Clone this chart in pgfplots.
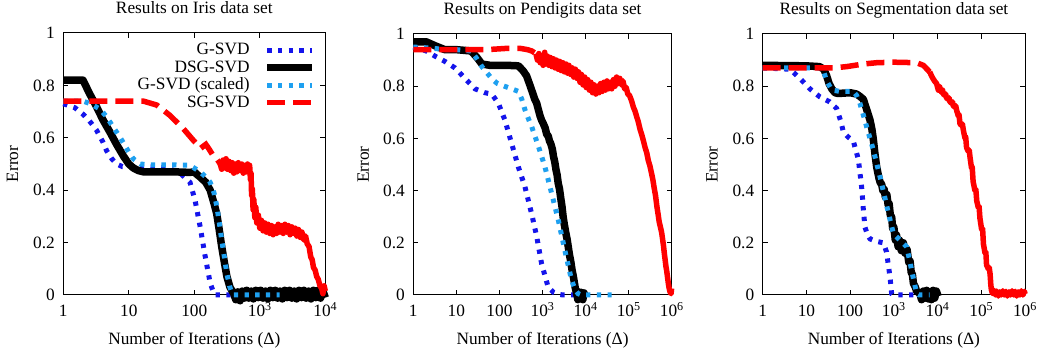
\documentclass[border=0pt]{standalone}
\usepackage{fontspec}
\setmainfont{Liberation Serif}
\usepackage{pgfplots}
\pgfplotsset{compat=1.18}
\definecolor{gblue}{RGB}{20,20,235}
\definecolor{lblue}{RGB}{30,160,240}
\definecolor{gred}{RGB}{255,0,0}
\newcommand\cf{\fontsize{17.3bp}{20bp}\selectfont}
\pgfplotsset{
  legend image code/.code={\draw[#1] (0bp,0bp) -- (45bp,0bp);},
  every axis title shift=0pt,
  gsvd/.style={color=gblue, line width=5bp, dash pattern=on 4.3bp off 6.4bp},
  dsg/.style={color=black, line width=7.5bp, line join=round},
  gsc/.style={color=lblue, line width=5bp, dash pattern=on 4.3bp off 6.4bp},
  sg/.style={color=gred, line width=5.5bp, dash pattern=on 18bp off 8bp},
  sgn/.style={color=gred, line width=5.5bp, line join=round},
  myaxisstyle/.style={
    scale only axis, xmin=1, ymin=0, ymax=1,
    ytick={0,0.2,0.4,0.6,0.8,1},
    yticklabels={0,0.2,0.4,0.6,0.8,1},
    minor tick style={draw=none},
    clip=false,
    axis line style={line width=1bp, black},
    major tick length=5bp,
    tick style={black, line width=1bp},
    every tick label/.append style={font=\cf},
    xticklabel style={anchor=base, yshift=-21.5bp},
    yticklabel style={xshift=-5bp},
    title style={font=\cf, at={(axis description cs:0.5,1.0737)}, anchor=base},
    xlabel style={font=\cf, at={(axis description cs:0.5,-0.1908)}, anchor=base},
    ylabel style={font=\cf, at={(axis description cs:-0.172,0.5)}, anchor=base},
    xlabel={Number of Iterations (Δ)},
    ylabel={Error},
  },
}
\begin{document}
\begin{tikzpicture}
\path[use as bounding box] (0,0) rectangle (1037bp,356bp);
% ---------------- Iris ----------------
\begin{semilogxaxis}[myaxisstyle, at={(63.3bp,61bp)}, anchor=south west,
  width=262bp, height=262bp, xmax=10000,
  xtick={1,10,100,1000,10000},
  xticklabels={1,10,100,10\textsuperscript{3},10\textsuperscript{4}},
  title={Results on Iris data set},
  legend cell align=right, legend plot pos=right,
  legend style={at={(axis description cs:1,1)}, anchor=north east,
    xshift=-9bp, yshift=-9.4bp, draw=none, fill=none, inner sep=0pt,
    font=\cf, row sep=2.5bp, column sep=14bp,
    nodes={inner sep=0pt, text height=12bp, text depth=3bp}},
]
\addplot[gsvd] coordinates {(1,0.73)(1.5,0.715)(2,0.69)(2.5,0.665)(3.2,0.63)(4,0.585)(4.6,0.55)(5.5,0.52)(6.5,0.50)(8,0.49)(10,0.49)(20,0.49)(40,0.485)(61,0.465)(86,0.43)(103,0.36)(123,0.26)(146,0.15)(175,0.045)(200,0.005)(208,0)(400,0)};
\addlegendentry{G-SVD}
\addplot[dsg] coordinates {(1,0.82)(2,0.82)(2.5,0.77)(3.2,0.72)(4,0.67)(5.2,0.62)(6.5,0.575)(8.3,0.53)(10,0.5)(11.7,0.485)(14,0.475)(16.7,0.47)(30,0.47)(50,0.47)(86,0.468)(100,0.47)(110,0.46)(123,0.45)(150,0.43)(175,0.40)(200,0.35)(220,0.31)(240,0.25)(262,0.185)(290,0.12)(315,0.07)(350,0.03)(400,0.005)
(430,-0.018)(460,0.012)(500,-0.022)(540,0.015)(580,-0.012)(630,0.018)(680,-0.012)(740,0.015)(800,-0.015)(870,0.018)(950,-0.01)(1030,0.018)(1120,-0.012)(1220,0.015)(1330,-0.015)(1450,0.018)(1580,-0.01)(1720,0.018)(1870,-0.012)(2030,0.015)(2210,-0.015)(2400,0.018)(2610,-0.01)(2840,0.018)(3090,-0.012)(3360,0.015)(3650,-0.015)(3970,0.018)(4320,-0.01)(4700,0.018)(5110,-0.012)(5560,0.015)(6050,-0.015)(6580,0.018)(7150,-0.01)(7780,0.018)(8460,-0.012)(9200,0.015)(10000,-0.01)};
\addlegendentry{DSG-SVD}
\addplot[gsc] coordinates {(1,0.74)(2,0.74)(2.6,0.73)(3.6,0.71)(4.6,0.68)(5.8,0.64)(7,0.61)(8.3,0.58)(10,0.545)(11.7,0.52)(15,0.50)(20,0.497)(40,0.497)(86,0.495)(123,0.47)(150,0.45)(175,0.43)(200,0.39)(220,0.34)(240,0.28)(262,0.21)(290,0.14)(315,0.08)(345,0.035)(375,0.005)(400,0)(2000,0)};
\addlegendentry{G-SVD (scaled)}
\addplot[sg] coordinates {(1,0.74)(16.7,0.74)(26.7,0.725)(42.7,0.685)(68,0.635)(97,0.59)(125,0.56)(150,0.575)(170,0.555)(196,0.53)(220,0.52)(249,0.50)};
\addlegendentry{SG-SVD}
\addplot[sgn, forget plot] coordinates {(249,0.50)(262,0.48)(275,0.515)(290,0.485)(305,0.52)(320,0.48)(340,0.51)(360,0.475)(380,0.505)(400,0.465)(420,0.50)(445,0.47)(470,0.505)(500,0.475)(530,0.50)(560,0.465)(590,0.495)(620,0.47)(650,0.50)(680,0.475)(700,0.495)(720,0.44)(735,0.465)(750,0.38)(770,0.405)(790,0.325)(810,0.365)(840,0.295)(870,0.335)(900,0.275)(950,0.305)(1000,0.255)(1060,0.285)(1120,0.245)(1190,0.275)(1260,0.24)(1340,0.27)(1420,0.235)(1510,0.265)(1600,0.23)(1700,0.26)(1800,0.235)(1910,0.27)(2030,0.24)(2150,0.265)(2280,0.235)(2420,0.27)(2570,0.24)(2730,0.265)(2900,0.23)(3080,0.26)(3270,0.235)(3470,0.255)(3680,0.225)(3900,0.25)(4150,0.22)(4400,0.24)(4700,0.21)(5000,0.225)(5300,0.195)(5650,0.185)(6000,0.145)(6300,0.135)(6600,0.105)(7000,0.095)(7400,0.07)(7800,0.06)(8300,0.035)(8800,0.025)(9200,0.005)(9600,0.035)(10000,0.015)};
\end{semilogxaxis}
% ---------------- Pendigits ----------------
\begin{semilogxaxis}[myaxisstyle, at={(413.3bp,61bp)}, anchor=south west,
  width=258.5bp, height=261bp, xmax=1000000,
  xtick={1,10,100,1000,10000,100000,1000000},
  xticklabels={1,10,100,10\textsuperscript{3},10\textsuperscript{4},10\textsuperscript{5},10\textsuperscript{6}},
  title={Results on Pendigits data set},
]
\addplot[gsvd] coordinates {(1,0.95)(2,0.935)(3.2,0.915)(5.4,0.895)(9.3,0.87)(15.8,0.83)(27,0.79)(46,0.775)(66,0.77)(94,0.735)(134,0.67)(192,0.58)(275,0.49)(390,0.415)(560,0.31)(730,0.225)(950,0.12)(1350,0.03)(1800,0.01)(2300,0.003)(3000,0)(6000,0)};
\addplot[dsg] coordinates {(1,0.97)(2,0.97)(3.2,0.955)(5.4,0.94)(10,0.94)(22,0.935)(30,0.91)(39,0.885)(60,0.88)(150,0.88)(275,0.878)(350,0.86)(425,0.84)(520,0.80)(600,0.77)(660,0.75)(730,0.735)(800,0.71)(880,0.685)(950,0.67)(1050,0.655)(1150,0.64)(1250,0.615)(1350,0.61)(1450,0.59)(1550,0.58)(1680,0.56)(1800,0.53)(1920,0.51)(2050,0.48)(2180,0.46)(2300,0.43)(2480,0.405)(2650,0.37)(2820,0.34)(3000,0.30)(3200,0.27)(3450,0.24)(3700,0.215)(3950,0.185)(4200,0.155)(4500,0.13)(4850,0.095)(5200,0.07)(5700,0.03)(6200,0.005)(6600,-0.018)(7000,0.012)(7500,-0.015)(8000,0.01)(8600,-0.018)(9200,0.008)(9700,-0.005)};
\addplot[gsc] coordinates {(1,0.95)(3,0.945)(5.4,0.94)(10,0.94)(22,0.935)(30,0.905)(39,0.875)(55,0.845)(70,0.825)(90,0.81)(130,0.80)(192,0.79)(275,0.78)(330,0.75)(390,0.71)(470,0.675)(560,0.645)(800,0.57)(1140,0.49)(1620,0.39)(2300,0.29)(3300,0.17)(4700,0.058)(5700,0.02)(6700,0.005)(8000,0)(40000,0)};
\addplot[sg] coordinates {(1,0.94)(50,0.94)(150,0.945)(300,0.945)(450,0.94)(560,0.935)(700,0.925)};
\addplot[sgn] coordinates {(700,0.925)(760,0.9)(820,0.925)(880,0.89)(950,0.915)(1030,0.88)(1120,0.93)(1200,0.885)(1300,0.915)(1400,0.88)(1520,0.91)(1650,0.875)(1790,0.905)(1950,0.87)(2100,0.9)(2300,0.865)(2500,0.895)(2700,0.86)(2950,0.89)(3200,0.855)(3500,0.885)(3800,0.85)(4100,0.88)(4500,0.845)(4900,0.87)(5300,0.835)(5800,0.865)(6300,0.83)(6800,0.855)(7400,0.815)(8000,0.845)(8700,0.805)(9500,0.835)(10300,0.795)(11200,0.825)(12200,0.785)(13300,0.815)(14500,0.775)(15800,0.805)(17200,0.77)(18700,0.80)(20400,0.775)(22200,0.81)(24200,0.78)(26400,0.815)(28700,0.785)(31300,0.82)(34100,0.79)(37100,0.815)(40400,0.79)(44000,0.825)(48000,0.80)(52300,0.835)(57000,0.81)(62000,0.83)(67600,0.805)(73600,0.82)(80200,0.79)(87400,0.795)(95200,0.77)(104000,0.765)(116000,0.745)(128000,0.72)(140000,0.705)(155000,0.68)(166000,0.665)(183000,0.635)(200000,0.615)(220000,0.59)(240000,0.565)(262000,0.545)(285000,0.515)(310000,0.495)(340000,0.465)(365000,0.44)(390000,0.41)(420000,0.38)(450000,0.34)(480000,0.31)(510000,0.28)(545000,0.26)(580000,0.24)(610000,0.215)(640000,0.19)(670000,0.16)(700000,0.135)(730000,0.11)(765000,0.09)(800000,0.065)(830000,0.045)(870000,0.025)(910000,0.012)(960000,0.005)(990000,0.025)};
\end{semilogxaxis}
% ---------------- Segmentation ----------------
\begin{semilogxaxis}[myaxisstyle, at={(762.7bp,61bp)}, anchor=south west,
  width=262.3bp, height=261bp, xmax=1000000,
  xtick={1,10,100,1000,10000,100000,1000000},
  xticklabels={1,10,100,10\textsuperscript{3},10\textsuperscript{4},10\textsuperscript{5},10\textsuperscript{6}},
  title={Results on Segmentation data set},
]
\addplot[gsvd] coordinates {(1,0.87)(4.2,0.865)(7.1,0.83)(12,0.79)(20,0.76)(34,0.74)(49,0.715)(60,0.67)(70,0.625)(90,0.605)(118,0.59)(154,0.52)(183,0.415)(200,0.33)(218,0.26)(250,0.23)(285,0.215)(405,0.205)(575,0.20)(680,0.165)(740,0.12)(815,0.07)(890,0.005)(950,0)(3350,0)};
\addplot[dsg] coordinates {(1,0.88)(10,0.878)(20,0.875)(25,0.865)(29,0.84)(33,0.81)(38,0.79)(45,0.775)(53,0.772)(100,0.775)(140,0.77)(170,0.76)(200,0.75)(240,0.71)(285,0.67)(315,0.635)(340,0.595)(370,0.54)(405,0.49)(460,0.445)(490,0.43)(525,0.425)(560,0.40)(600,0.405)(640,0.375)(690,0.385)(740,0.345)(780,0.35)(830,0.305)(890,0.30)(940,0.255)(1000,0.26)(1080,0.21)(1150,0.23)(1250,0.185)(1350,0.21)(1480,0.17)(1650,0.2)(1800,0.16)(2000,0.175)(2200,0.125)(2350,0.13)(2500,0.085)(2650,0.08)(2800,0.045)(3100,0.03)(3300,0.015)(3950,0.005)(4300,-0.018)(4700,0.015)(5100,-0.012)(5600,0.018)(6100,-0.015)(6600,0.012)(7200,-0.018)(7900,0.018)(8600,-0.012)(9400,0.015)(10300,-0.005)};
\addplot[gsc] coordinates {(1,0.87)(20,0.87)(25,0.855)(29,0.82)(34,0.8)(38,0.785)(60,0.78)(118,0.78)(140,0.765)(167,0.735)(200,0.69)(238,0.645)(340,0.555)(480,0.455)(690,0.34)(975,0.235)(1380,0.21)(1950,0.185)(2250,0.14)(2550,0.095)(2950,0.045)(3350,0.005)(3800,0)(6600,0)};
\addplot[sg] coordinates {(1,0.87)(41,0.87)(83,0.875)(200,0.885)(405,0.89)(1000,0.892)(3300,0.89)(4700,0.88)(6600,0.855)};
\addplot[sgn] coordinates {(6600,0.855)(7500,0.835)(8500,0.82)(9500,0.81)(10400,0.785)(11000,0.80)(11500,0.79)(12500,0.775)(13000,0.785)(13500,0.77)(14700,0.765)(15300,0.77)(16000,0.755)(17500,0.75)(18300,0.755)(19200,0.74)(21000,0.735)(22000,0.74)(22800,0.725)(25000,0.72)(26000,0.725)(27500,0.705)(30000,0.685)(31000,0.69)(32600,0.655)(35700,0.65)(37000,0.655)(39000,0.63)(42500,0.60)(44000,0.605)(46000,0.565)(50500,0.55)(53000,0.555)(55500,0.525)(60000,0.485)(62000,0.49)(65000,0.435)(71500,0.40)(75000,0.405)(78800,0.36)(85500,0.335)(89000,0.34)(93000,0.295)(102000,0.25)(107000,0.255)(112000,0.195)(122000,0.16)(127000,0.165)(132000,0.115)(145000,0.10)(152000,0.105)(159000,0.08)(165000,0.04)(170000,0.02)(180000,0.006)(195000,0.018)(210000,0.0)(225000,0.015)(245000,-0.004)(265000,0.012)(285000,0.0)(310000,0.016)(335000,0.0)(365000,0.014)(395000,-0.004)(430000,0.012)(465000,0.0)(505000,0.016)(550000,0.0)(595000,0.014)(645000,-0.004)(700000,0.012)(760000,0.0)(825000,0.016)(895000,0.0)(970000,0.014)(1000000,0.004)};
\end{semilogxaxis}
\end{tikzpicture}
\end{document}
